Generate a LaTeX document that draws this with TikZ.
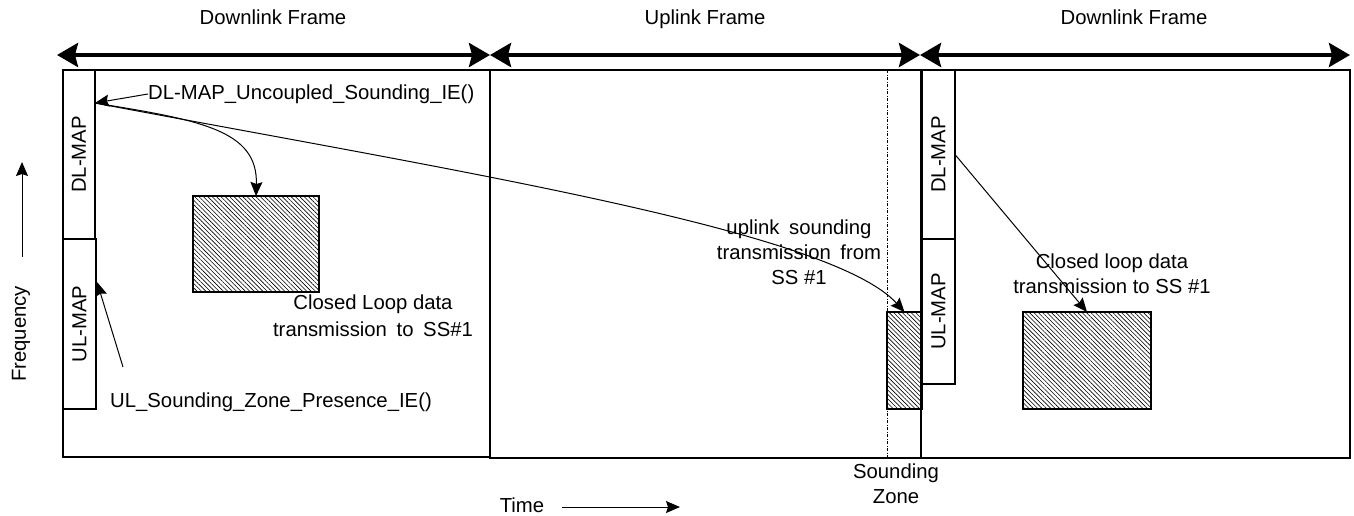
\documentclass[tikz,border=0pt]{standalone}
\usepackage{fontspec}
\setmainfont{Liberation Sans}
\usetikzlibrary{arrows.meta,patterns.meta}
\begin{document}
\begin{tikzpicture}[x=1pt,y=-1pt,
  every node/.style={font=\fontsize{20.3}{25}\selectfont},
  box/.style={draw, line width=1.3pt, inner sep=0pt, outer sep=0pt, anchor=north west},
  mapbox/.style={box, line width=1.1pt, fill=white},
  hatchbox/.style={box, line width=1.1pt, pattern={Lines[angle=-45, distance=3.1pt, line width=0.6pt]}},
  bigarrow/.style={line width=4pt, {Stealth[length=21pt,width=24pt,inset=3pt]}-{Stealth[length=21pt,width=24pt,inset=3pt]}},
  thinarrow/.style={line width=1pt, -{Stealth[length=14pt,width=12pt,inset=2pt]}},
  lbl/.style={inner sep=0pt, align=center}
]
\useasboundingbox (0,0) rectangle (1354,515);

% frames
\node[box, minimum width=427pt, minimum height=387pt] (f1) at (63,70) {};
\node[box, minimum width=431pt, minimum height=388pt] (f2) at (490,70) {};
\node[box, minimum width=429pt, minimum height=388pt] (f3) at (921,70) {};
\draw[line width=2.2pt] (f2.north east) -- (f2.south east);

% map boxes
\node[mapbox, minimum width=32pt, minimum height=169pt] (dl1) at (63,70) {};
\node[rotate=90, lbl] (dl1t) at (dl1.center) {DL-MAP};
\node[mapbox, minimum width=33pt, minimum height=170pt] (ul1) at (63,239) {};
\node[rotate=90, lbl] (ul1t) at (ul1.center) {UL-MAP};
\node[mapbox, minimum width=33pt, minimum height=169pt] (dl3) at (922,70) {};
\node[rotate=90, lbl] (dl3t) at (dl3.center) {DL-MAP};
\node[mapbox, minimum width=33pt, minimum height=145pt] (ul3) at (922,239) {};
\node[rotate=90, lbl] (ul3t) at (ul3.center) {UL-MAP};

% hatched boxes
\node[hatchbox, minimum width=126pt, minimum height=96pt] (h1) at (193,196) {};
\node[hatchbox, minimum width=35pt, minimum height=97pt] (snd) at (887,312) {};
\node[hatchbox, minimum width=128pt, minimum height=97pt] (h3) at (1023,312) {};

% sounding zone boundary
\draw[line width=0.8pt, dash pattern=on 3pt off 1.5pt on 1pt off 1.5pt] (snd.west |- f2.north) -- (snd.west |- f2.south);

% top frame arrows
\coordinate (a0) at (57,55);
\coordinate (a1) at (490,55);
\coordinate (a2) at (920,55);
\coordinate (a3) at (1350,55);
\draw[bigarrow] (a0) -- (a1);
\draw[bigarrow] (a1) -- (a2);
\draw[bigarrow] (a2) -- (a3);
\node[lbl, anchor=base] (tdl1) at (273,24) {Downlink Frame};
\node[lbl, anchor=base] (tul) at (705,24) {Uplink Frame};
\node[lbl, anchor=base] (tdl3) at (1134,24) {Downlink Frame};

% labels
\node[lbl, anchor=west] (ie1) at (148,94) {DL-MAP\_Uncoupled\_Sounding\_IE()};
\node[lbl, anchor=west] (ie2) at (110,402) {UL\_Sounding\_Zone\_Presence\_IE()};
\node[lbl, font=\fontsize{20.3}{27}\selectfont] (cl1) at (373,316) {Closed Loop data\\transmission\hspace{4pt} to\hspace{4pt} SS\#1};
\node[lbl] (cl3) at (1112,274) {Closed loop data\\transmission to SS \#1};
\node[lbl] (ups) at (799,252) {uplink\hspace{4pt} sounding\\transmission\hspace{4pt} from\\SS \#1};
\node[lbl] (sz) at (896,484) {Sounding\\Zone};

% connectors
\coordinate (dlp) at (95,103);
\draw[thinarrow] (ie1.west) -- (dlp);
\draw[thinarrow] (dlp) .. controls (200,120) and (258,130) .. (h1.north);
\draw[thinarrow] (dlp) .. controls (450,170) and (830,230) .. (snd.north);
\coordinate (uls) at (123,367);
\coordinate (ulp) at (97,282);
\draw[thinarrow] (uls) -- (ulp);
\draw[thinarrow] (dl3.east) -- (h3.north);

% axes
\node[lbl, rotate=90] (freq) at (21,334) {Frequency};
\coordinate (fs) at (22,257);
\coordinate (fe) at (22,162);
\draw[thinarrow] (fs) -- (fe);
\node[lbl, anchor=base] (time) at (522,512) {Time};
\coordinate (ts) at (562,507);
\coordinate (te) at (680,507);
\draw[thinarrow] (ts) -- (te);
\end{tikzpicture}
\end{document}
